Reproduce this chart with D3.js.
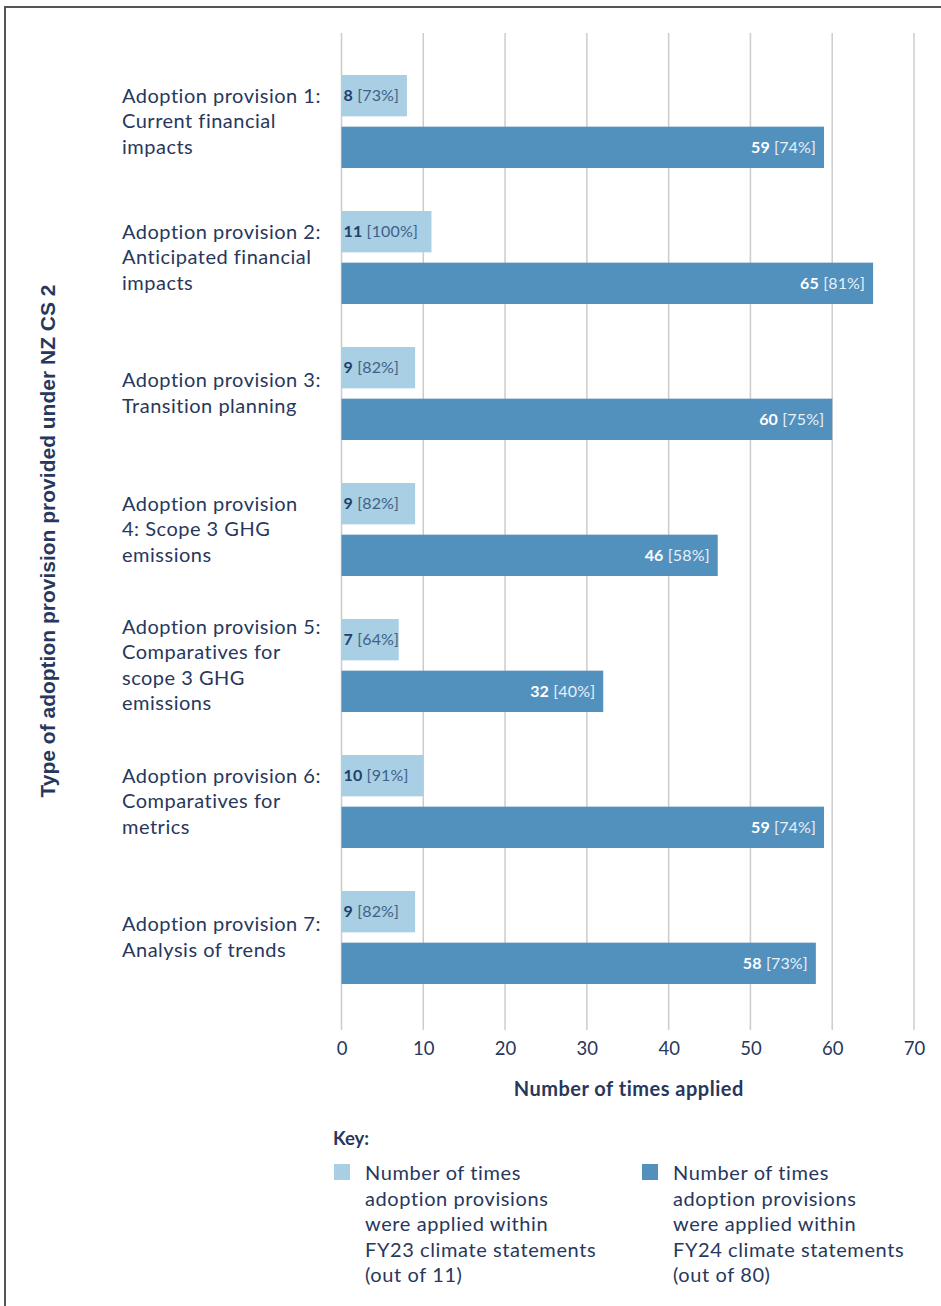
<!DOCTYPE html>
<html>
<head>
<meta charset="utf-8">
<script src="https://cdn.jsdelivr.net/npm/d3@7"></script>
<style>
  body { margin:0; background:#fff; }
  svg text { font-family: Lato, "Open Sans", sans-serif; }
</style>
</head>
<body>
<script>
// data
var categories = [
  ["Adoption provision 1:", "Current financial", "impacts"],
  ["Adoption provision 2:", "Anticipated financial", "impacts"],
  ["Adoption provision 3:", "Transition planning"],
  ["Adoption provision", "4: Scope 3 GHG", "emissions"],
  ["Adoption provision 5:", "Comparatives for", "scope 3 GHG", "emissions"],
  ["Adoption provision 6:", "Comparatives for", "metrics"],
  ["Adoption provision 7:", "Analysis of trends"]
];
var fy23 = [8, 11, 9, 9, 7, 10, 9];
var fy23Pct = [73, 100, 82, 82, 64, 91, 82];
var fy24 = [59, 65, 60, 46, 32, 59, 58];
var fy24Pct = [74, 81, 75, 58, 40, 74, 73];
var xTicks = [0, 10, 20, 30, 40, 50, 60, 70];
var series = ["fy23", "fy24"];
var legendText = [
  ["Number of times", "adoption provisions", "were applied within", "FY23 climate statements", "(out of 11)"],
  ["Number of times", "adoption provisions", "were applied within", "FY24 climate statements", "(out of 80)"]
];

var w = 941, h = 1306;
var navy = "#28375c";
var colors = {fy23: "#a8cfe4", fy24: "#5290be"};

var svg = d3.select("body").append("svg").attr("width", w).attr("height", h);

// frame
svg.append("rect")
  .attr("x", 5).attr("y", 7).attr("width", w + 10).attr("height", h + 10)
  .attr("fill", "none").attr("stroke", "#555").attr("stroke-width", 2);

// scales
var x = d3.scaleLinear().domain([0, 70]).range([341.5, 914]);
var y0 = d3.scaleBand().domain(d3.range(categories.length)).range([53, 1005]);
var y1 = d3.scaleBand().domain(series).range([22, 115]).paddingInner(0.2);

// gridlines
svg.selectAll("line.grid")
  .data(xTicks)
  .enter()
  .append("line")
  .attr("class", "grid")
  .attr("x1", function(d){ return x(d); })
  .attr("x2", function(d){ return x(d); })
  .attr("y1", 33).attr("y2", 1030)
  .attr("stroke", "#cccccc").attr("stroke-width", 1.5);

// x axis
var xAxis = d3.axisBottom(x).tickValues(xTicks).tickSize(0).tickPadding(0);
var gx = svg.append("g").attr("transform", "translate(0,1055)").call(xAxis);
gx.select(".domain").remove();
gx.selectAll("text")
  .attr("font-size", "18.5px").attr("fill", navy).attr("dy", 0)
  .style("font-family", "Lato, sans-serif");

svg.append("text")
  .text("Number of times applied")
  .attr("x", (x(0) + x(70)) / 2 + 1).attr("y", 1096)
  .attr("text-anchor", "middle")
  .style("letter-spacing", "0.5px")
  .attr("font-size", "20px").attr("font-weight", "bold").attr("fill", navy);

// y title
svg.append("text")
  .text("Type of adoption provision provided under NZ CS 2")
  .attr("transform", "translate(55,541) rotate(-90)")
  .attr("text-anchor", "middle")
  .style("font-family", "'Liberation Sans', Arial, sans-serif")
  .attr("font-size", "21px").attr("font-weight", "bold").attr("fill", navy);

// category labels
var groups = svg.selectAll("g.cat")
  .data(categories)
  .enter()
  .append("g")
  .attr("class", "cat")
  .attr("transform", function(d, i){ return "translate(0," + y0(i) + ")"; });

groups.append("text")
  .attr("font-size", "20px").attr("fill", navy)
  .style("letter-spacing", "0.5px")
  .each(function(d){
    var t = d3.select(this);
    var lh = 25.5;
    var top = y0.bandwidth() / 2 - (d.length - 1) * lh / 2 + 7;
    d.forEach(function(line, k){
      t.append("tspan").attr("x", 122).attr("y", top + k * lh).text(line);
    });
  });

// bars
var rows = categories.map(function(c, i){
  return [
    {s: "fy23", v: fy23[i], p: fy23Pct[i]},
    {s: "fy24", v: fy24[i], p: fy24Pct[i]}
  ];
});

var bars = groups.selectAll("g.bar")
  .data(function(d, i){ return rows[i]; })
  .enter()
  .append("g")
  .attr("class", "bar");

bars.append("rect")
  .attr("x", x(0))
  .attr("y", function(d){ return y1(d.s); })
  .attr("width", function(d){ return x(d.v) - x(0); })
  .attr("height", y1.bandwidth())
  .attr("fill", function(d){ return colors[d.s]; });

var labels = bars.append("text")
  .attr("x", function(d){ return d.s == "fy23" ? x(0) + 2 : x(d.v) - 8; })
  .attr("y", function(d){ return y1(d.s) + y1.bandwidth() / 2 + 5.5; })
  .attr("text-anchor", function(d){ return d.s == "fy23" ? "start" : "end"; })
  .style("letter-spacing", "0.15px")
  .attr("font-size", "16px");

labels.append("tspan")
  .attr("font-weight", "bold")
  .attr("fill", function(d){ return d.s == "fy23" ? "#24406a" : "#ffffff"; })
  .text(function(d){ return d.v; });
labels.append("tspan")
  .attr("fill", function(d){ return d.s == "fy23" ? "#3f6187" : "#e8f1f8"; })
  .text(function(d){ return " [" + d.p + "%]"; });

// legend
svg.append("text")
  .text("Key:")
  .attr("x", 333).attr("y", 1145)
  .attr("font-size", "18.5px").attr("font-weight", "bold").attr("fill", navy);

var legX = [334, 642];
var leg = svg.selectAll("g.leg")
  .data(series)
  .enter()
  .append("g")
  .attr("class", "leg")
  .attr("transform", function(d, i){ return "translate(" + legX[i] + ",1164)"; });

leg.append("rect")
  .attr("width", 16).attr("height", 16)
  .attr("fill", function(d){ return colors[d]; });

leg.append("text")
  .attr("font-size", "20px").attr("fill", navy)
  .style("letter-spacing", "0.6px")
  .each(function(d, i){
    var t = d3.select(this);
    legendText[i].forEach(function(line, k){
      t.append("tspan").attr("x", 31).attr("y", 16 + k * 25.6).text(line);
    });
  });
</script>
</body>
</html>
